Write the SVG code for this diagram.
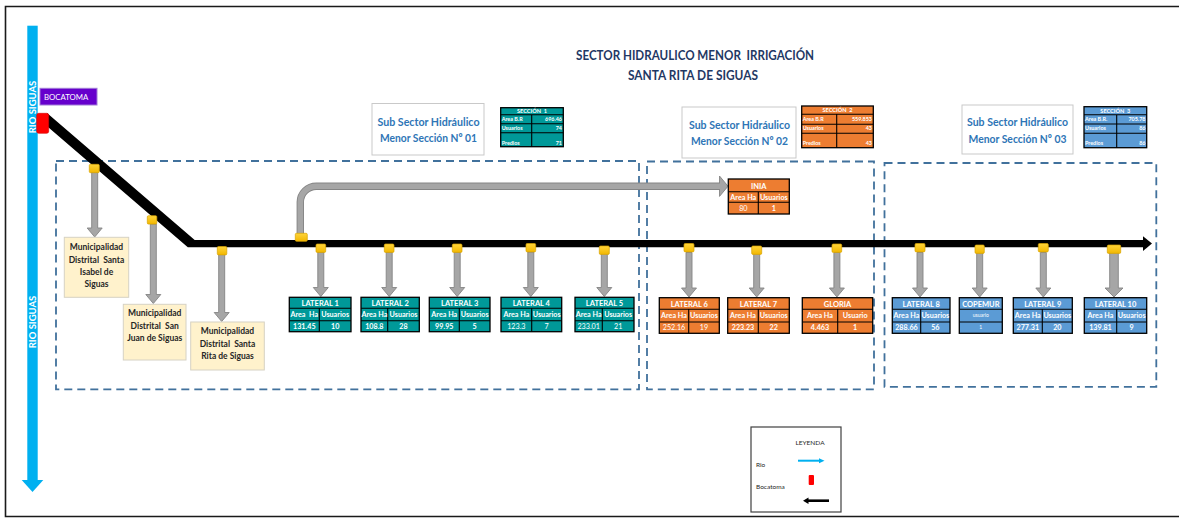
<svg xmlns="http://www.w3.org/2000/svg" xmlns:xlink="http://www.w3.org/1999/xlink" width="1179" height="518" viewBox="0 0 1179 518">
  <defs>
    <style>
      text { font-family: Lato, "Liberation Sans", sans-serif; white-space: pre; }
      .title { font-size: 13px; font-weight: 700; fill: #1f3864; text-anchor: middle; }
      .sub { font-size: 12px; font-weight: 700; fill: #2e75b6; text-anchor: middle; }
      .subbox { fill: #fff; stroke: #c9c9c9; stroke-width: 1; }
      .zone { fill: none; stroke: #41719c; stroke-width: 1.8; stroke-dasharray: 8 5; }
      .mbox { fill: #fff2cc; stroke: #d6d2c4; stroke-width: 1; }
      .mun { font-size: 8.5px; font-weight: 700; fill: #262626; text-anchor: middle; }
      .teal { fill: #009999; }
      .orng { fill: #ed7d31; }
      .blu { fill: #5b9bd5; }
      .cell { stroke: #000; stroke-width: 1.3; }
      .grid { fill: none; stroke: #000; stroke-width: 1.1; }
      .th { font-size: 7.5px; font-weight: 700; fill: #fff; text-anchor: middle; }
      .tc { font-size: 7.2px; font-weight: 700; fill: #fff; text-anchor: middle; }
      .tl { font-size: 7.2px; font-weight: 400; fill: #fff; text-anchor: middle; }
      .ts { font-size: 5px; font-weight: 400; fill: #fff; text-anchor: middle; }
      .sh { font-size: 5.6px; font-weight: 700; fill: #fff; text-anchor: middle; }
      .sl { font-size: 5.4px; font-weight: 700; fill: #fff; }
      .sv { font-size: 5.4px; font-weight: 700; fill: #fff; text-anchor: end; }
      .garrow { fill: #a6a6a6; stroke: #858585; stroke-width: 0.9; }
      .tab { fill: url(#tabfill); stroke: #d9a300; stroke-width: 0.7; }
      .leg { font-size: 6.5px; fill: #262626; }
    </style>
    <linearGradient id="tabfill" x1="0" y1="0" x2="0" y2="1">
      <stop offset="0" stop-color="#ffd43a"/>
      <stop offset="1" stop-color="#f2b700"/>
    </linearGradient>
    <!-- standard lateral offtake arrow: tab at y=252, tip at y=296.5 -->
    <path id="darrow" d="M-3 0 V35.5 H-7.5 L0 44.5 L7.5 35.5 H3 V0 Z"/>
  </defs>

  <rect width="1179" height="518" fill="#fff"/>
  <!-- page frame -->
  <path d="M1182 6.5 H5.5 V516.5 H1182" fill="none" stroke="#1a1a1a" stroke-width="1.6"/>

  <!-- title -->
  <g id="title">
    <text class="title" x="695" y="60" textLength="238" lengthAdjust="spacingAndGlyphs" xml:space="preserve">SECTOR HIDRAULICO MENOR  IRRIGACIÓN</text>
    <text class="title" x="693" y="79.5" textLength="130" lengthAdjust="spacingAndGlyphs">SANTA RITA DE SIGUAS</text>
  </g>

  <!-- river -->
  <g id="rio">
    <rect x="27.3" y="25.7" width="10.4" height="455" fill="#00b0f0"/>
    <polygon points="21.7,480 43.3,480 32.5,492" fill="#00b0f0"/>
    <text x="0" y="0" transform="translate(35.8,107) rotate(-90)" font-size="9.5" font-weight="700" fill="#fff" text-anchor="middle">RIO SIGUAS</text>
    <text x="0" y="0" transform="translate(35.8,322) rotate(-90)" font-size="9.5" font-weight="700" fill="#fff" text-anchor="middle">RIO SIGUAS</text>
  </g>

  <!-- sector zones -->
  <g id="zonas">
    <rect class="zone" x="56" y="161" width="583" height="228.3"/>
    <rect class="zone" x="647" y="161.5" width="227" height="227.8"/>
    <rect class="zone" x="884.5" y="163" width="271.8" height="223.8"/>
  </g>

  <!-- main canal and offtakes -->
  <g id="conectores">
    <polygon points="47.3,113.2 194.7,240 1144,240 1144,247.3 187.8,247.3 40.7,120.8" fill="#000"/>
    <polygon points="1143,236.3 1152,243.6 1143,250.9" fill="#000"/>

    <!-- offtake to INIA -->
    <path d="M300.3 236 V202 A16 16 0 0 1 316.3 186.2 H721" fill="none" stroke="#858585" stroke-width="7.4"/>
    <polygon class="garrow" points="719.5,176 728,186.2 719.5,196.4"/>
    <path d="M300.3 236 V202 A16 16 0 0 1 316.3 186.2 H721" fill="none" stroke="#a6a6a6" stroke-width="5.6"/>

    <!-- municipal offtakes -->
    <path class="garrow" d="M91.7 172 V228 H87.2 L94.7 237 L102.2 228 H97.7 V172 Z"/>
    <path class="garrow" d="M150.3 224 V294.5 H145.8 L153.3 303.5 L160.8 294.5 H156.3 V224 Z"/>
    <path class="garrow" d="M218.7 254 V312.5 H214.2 L221.7 321.5 L229.2 312.5 H224.7 V254 Z"/>

    <!-- lateral offtakes -->
    <use xlink:href="#darrow" class="garrow" x="320.8" y="252"/>
    <use xlink:href="#darrow" class="garrow" x="389.2" y="252"/>
    <use xlink:href="#darrow" class="garrow" x="457.2" y="252"/>
    <use xlink:href="#darrow" class="garrow" x="530.8" y="252"/>
    <use xlink:href="#darrow" class="garrow" x="604.3" y="252"/>
    <use xlink:href="#darrow" class="garrow" x="689" y="252.5"/>
    <use xlink:href="#darrow" class="garrow" x="756.7" y="252.5"/>
    <use xlink:href="#darrow" class="garrow" x="836.9" y="252.5"/>
    <use xlink:href="#darrow" class="garrow" x="920" y="252.5"/>
    <use xlink:href="#darrow" class="garrow" x="979.7" y="252.5"/>
    <use xlink:href="#darrow" class="garrow" x="1043.3" y="252.5"/>
    <path class="garrow" d="M1109.7 252 V288 H1105 L1114 297 L1123 288 H1118.3 V252 Z"/>

    <!-- gates -->
    <rect class="tab" x="89.3" y="164.3" width="10" height="8.4" rx="1.2"/>
    <rect class="tab" x="147.3" y="215.7" width="9.5" height="8.4" rx="1.2"/>
    <rect class="tab" x="217.3" y="246.5" width="9.5" height="8.4" rx="1.2"/>
    <rect class="tab" x="295.3" y="233.3" width="12" height="8" rx="1.2"/>
    <rect class="tab" x="316" y="244" width="9.7" height="8.4" rx="1.2"/>
    <rect class="tab" x="384.3" y="244" width="9.7" height="8.4" rx="1.2"/>
    <rect class="tab" x="452.3" y="244" width="9.7" height="8.4" rx="1.2"/>
    <rect class="tab" x="526" y="243.5" width="9.7" height="8.4" rx="1.2"/>
    <rect class="tab" x="599.3" y="246" width="10" height="8.4" rx="1.2"/>
    <rect class="tab" x="684" y="243.5" width="10" height="8.4" rx="1.2"/>
    <rect class="tab" x="751.7" y="246" width="10" height="8.4" rx="1.2"/>
    <rect class="tab" x="832" y="244" width="9.7" height="8.4" rx="1.2"/>
    <rect class="tab" x="915" y="243.5" width="10" height="8.4" rx="1.2"/>
    <rect class="tab" x="975" y="245" width="9.3" height="8.4" rx="1.2"/>
    <rect class="tab" x="1038.3" y="243.5" width="10" height="8.4" rx="1.2"/>
    <rect class="tab" x="1107.3" y="245" width="13.4" height="8.4" rx="1.2"/>
  </g>

  <!-- intake -->
  <g id="bocatoma">
    <rect x="40" y="88.3" width="57" height="16.7" fill="#6600cc" stroke="#a07ad6" stroke-width="1"/>
    <text x="44" y="100" font-size="7.8" fill="#fff">BOCATOMA</text>
    <rect x="36.7" y="113.3" width="12" height="20" rx="2" fill="#ff0000" stroke="#d40000" stroke-width="0.6"/>
  </g>

  <!-- sub-sector labels -->
  <g id="subsector-1">
    <rect class="subbox" x="372" y="103.5" width="112" height="51.5"/>
    <text class="sub" x="428.5" y="125.5" textLength="102" lengthAdjust="spacingAndGlyphs">Sub Sector Hidráulico</text>
    <text class="sub" x="428.5" y="142" textLength="97" lengthAdjust="spacingAndGlyphs">Menor Sección Nº 01</text>
  </g>
  <g id="subsector-2">
    <rect class="subbox" x="682" y="107" width="114" height="51"/>
    <text class="sub" x="739.5" y="128.5" textLength="101" lengthAdjust="spacingAndGlyphs">Sub Sector Hidráulico</text>
    <text class="sub" x="739.5" y="145" textLength="97" lengthAdjust="spacingAndGlyphs">Menor Sección Nº 02</text>
  </g>
  <g id="subsector-3">
    <rect class="subbox" x="962" y="105" width="111" height="49"/>
    <text class="sub" x="1017.5" y="126" textLength="101" lengthAdjust="spacingAndGlyphs">Sub Sector Hidráulico</text>
    <text class="sub" x="1017.5" y="142.5" textLength="98" lengthAdjust="spacingAndGlyphs">Menor Sección Nº 03</text>
  </g>

  <!-- section summary tables -->
  <g id="seccion-1" transform="translate(500.7,107.7)">
    <rect class="teal cell" width="62.6" height="39"/>
    <path class="grid" d="M0 7 H62.6 M0 16 H62.6 M0 25 H62.6 M31 7 V39"/>
    <text class="sh" x="31.3" y="5.3" xml:space="preserve">SECCIÓN  1</text>
    <text class="sl" x="1" y="13.5">Area B.R</text><text class="sv" x="61.3" y="13.5">696.46</text>
    <text class="sl" x="1" y="22.5">Usuarios</text><text class="sv" x="61.3" y="22.5">74</text>
    <text class="sl" x="1" y="37">Predios</text><text class="sv" x="61.3" y="37">71</text>
  </g>
  <g id="seccion-2" transform="translate(801.7,106)">
    <rect class="orng cell" width="71.6" height="41.7"/>
    <path class="grid" d="M0 8.3 H71.6 M0 18.3 H71.6 M0 27.3 H71.6 M35 8.3 V41.7"/>
    <text class="sh" x="35.8" y="6.3" xml:space="preserve">SECCIÓN  2</text>
    <text class="sl" x="1" y="15.3">Area B.R</text><text class="sv" x="70.3" y="15.3">559.853</text>
    <text class="sl" x="1" y="24.3">Usuarios</text><text class="sv" x="70.3" y="24.3">43</text>
    <text class="sl" x="1" y="38.8">Predios</text><text class="sv" x="70.3" y="38.8">43</text>
  </g>
  <g id="seccion-3" transform="translate(1084,106.7)">
    <rect class="blu cell" width="62.7" height="41"/>
    <path class="grid" d="M0 8 H62.7 M0 17.3 H62.7 M0 26.5 H62.7 M32.7 8 V41"/>
    <text class="sh" x="31.3" y="6" xml:space="preserve">SECCIÓN  3</text>
    <text class="sl" x="1" y="14.8">Area B.R.</text><text class="sv" x="61.4" y="14.8">705.78</text>
    <text class="sl" x="1" y="23.8">Usuarios</text><text class="sv" x="61.4" y="23.8">86</text>
    <text class="sl" x="1" y="38.2">Predios</text><text class="sv" x="61.4" y="38.2">86</text>
  </g>

  <!-- municipalities -->
  <g id="mun-santa-isabel">
    <rect class="mbox" x="64.3" y="237.3" width="64.4" height="60"/>
    <text class="mun" x="96.5" y="250">Municipalidad</text>
    <text class="mun" x="96.5" y="262.5" xml:space="preserve">Distrital  Santa</text>
    <text class="mun" x="96.5" y="275">Isabel de</text>
    <text class="mun" x="96.5" y="287">Siguas</text>
  </g>
  <g id="mun-san-juan">
    <rect class="mbox" x="123.3" y="304.3" width="62.7" height="55.7"/>
    <text class="mun" x="154.7" y="316">Municipalidad</text>
    <text class="mun" x="154.7" y="328.5" xml:space="preserve">Distrital  San</text>
    <text class="mun" x="154.7" y="341">Juan de Siguas</text>
  </g>
  <g id="mun-santa-rita">
    <rect class="mbox" x="190.7" y="322" width="73.6" height="48"/>
    <text class="mun" x="227.5" y="334">Municipalidad</text>
    <text class="mun" x="227.5" y="346.5" xml:space="preserve">Distrital  Santa</text>
    <text class="mun" x="227.5" y="358.5">Rita de Siguas</text>
  </g>

  <!-- INIA -->
  <g id="inia" transform="translate(728.3,179)">
    <rect class="orng cell" width="61" height="35"/>
    <path class="grid" d="M0 12.7 H61 M0 23.3 H61 M30 12.7 V35"/>
    <text class="th" x="30.5" y="9.5">INIA</text>
    <text class="tc" x="15" y="20.6">Area Ha</text><text class="tc" x="45.5" y="20.6">Usuarios</text>
    <text class="tl" x="15" y="31.8">80</text><text class="tc" x="45.5" y="31.8">1</text>
  </g>

  <!-- laterals, section 1 -->
  <g id="lateral-1" transform="translate(289.3,297.3)">
    <rect class="teal cell" width="61.7" height="34.4"/>
    <path class="grid" d="M0 11 H61.7 M0 23.4 H61.7 M30 11 V34.4"/>
    <text class="th" x="30.85" y="8.4">LATERAL 1</text>
    <text class="tc" x="15" y="20" xml:space="preserve">Area  Ha</text><text class="tc" x="45.85" y="20">Usuarios</text>
    <text class="tc" x="15" y="31.5">131.45</text><text class="tc" x="45.85" y="31.5">10</text>
  </g>
  <g id="lateral-2" transform="translate(361,297.3)">
    <rect class="teal cell" width="58.3" height="34.4"/>
    <path class="grid" d="M0 11 H58.3 M0 23.4 H58.3 M26.7 11 V34.4"/>
    <text class="th" x="29.15" y="8.4">LATERAL 2</text>
    <text class="tc" x="13.35" y="20">Area Ha</text><text class="tc" x="42.5" y="20">Usuarios</text>
    <text class="tc" x="13.35" y="31.5">108.8</text><text class="tc" x="42.5" y="31.5">28</text>
  </g>
  <g id="lateral-3" transform="translate(429.3,297.3)">
    <rect class="teal cell" width="60.7" height="34.4"/>
    <path class="grid" d="M0 11 H60.7 M0 23.4 H60.7 M30 11 V34.4"/>
    <text class="th" x="30.35" y="8.4">LATERAL 3</text>
    <text class="tc" x="15" y="20">Area Ha</text><text class="tc" x="45.35" y="20">Usuarios</text>
    <text class="tc" x="15" y="31.5">99.95</text><text class="tc" x="45.35" y="31.5">5</text>
  </g>
  <g id="lateral-4" transform="translate(501,297.3)">
    <rect class="teal cell" width="60.7" height="34.4"/>
    <path class="grid" d="M0 11 H60.7 M0 23.4 H60.7 M30.7 11 V34.4"/>
    <text class="th" x="30.35" y="8.4">LATERAL 4</text>
    <text class="tc" x="15.35" y="20">Area Ha</text><text class="tc" x="45.7" y="20">Usuarios</text>
    <text class="tl" x="15.35" y="31.5">123.3</text><text class="tl" x="45.7" y="31.5">7</text>
  </g>
  <g id="lateral-5" transform="translate(575,297.3)">
    <rect class="teal cell" width="59" height="34.4"/>
    <path class="grid" d="M0 11 H59 M0 23.4 H59 M27.3 11 V34.4"/>
    <text class="th" x="29.5" y="8.4">LATERAL 5</text>
    <text class="tc" x="13.65" y="20">Area Ha</text><text class="tc" x="43.15" y="20">Usuarios</text>
    <text class="tl" x="13.65" y="31.5">233.01</text><text class="tl" x="43.15" y="31.5">21</text>
  </g>

  <!-- laterals, section 2 -->
  <g id="lateral-6" transform="translate(659.3,297.7)">
    <rect class="orng cell" width="60" height="35.6"/>
    <path class="grid" d="M0 11.6 H60 M0 24.3 H60 M29.4 11.6 V35.6"/>
    <text class="th" x="30" y="9">LATERAL 6</text>
    <text class="tc" x="14.7" y="20.7">Area Ha</text><text class="tc" x="44.7" y="20.7">Usuarios</text>
    <text class="tl" x="14.7" y="32.6">252.16</text><text class="tl" x="44.7" y="32.6">19</text>
  </g>
  <g id="lateral-7" transform="translate(727.7,297.7)">
    <rect class="orng cell" width="61.6" height="35.6"/>
    <path class="grid" d="M0 11.6 H61.6 M0 24.3 H61.6 M30.6 11.6 V35.6"/>
    <text class="th" x="30.8" y="9">LATERAL 7</text>
    <text class="tc" x="15.3" y="20.7">Area Ha</text><text class="tc" x="46.1" y="20.7">Usuarios</text>
    <text class="tc" x="15.3" y="32.6">223.23</text><text class="tc" x="46.1" y="32.6">22</text>
  </g>
  <g id="gloria" transform="translate(802.3,297.7)">
    <rect class="orng cell" width="70.4" height="35.6"/>
    <path class="grid" d="M0 11.6 H70.4 M0 24.3 H70.4 M35.4 11.6 V35.6"/>
    <text class="th" x="35.2" y="9">GLORIA</text>
    <text class="tc" x="17.7" y="20.7">Area Ha</text><text class="tc" x="52.9" y="20.7">Usuario</text>
    <text class="tc" x="17.7" y="32.6">4.463</text><text class="tc" x="52.9" y="32.6">1</text>
  </g>

  <!-- laterals, section 3 -->
  <g id="lateral-8" transform="translate(892.3,297.7)">
    <rect class="blu cell" width="57.7" height="35.6"/>
    <path class="grid" d="M0 11.6 H57.7 M0 24.3 H57.7 M28.4 11.6 V35.6"/>
    <text class="th" x="28.85" y="9">LATERAL 8</text>
    <text class="tc" x="14.2" y="20.7">Area Ha</text><text class="tc" x="43.05" y="20.7">Usuarios</text>
    <text class="tc" x="14.2" y="32.6">288.66</text><text class="tc" x="43.05" y="32.6">56</text>
  </g>
  <g id="copemur" transform="translate(959.3,297.7)">
    <rect class="blu cell" width="43" height="35.6"/>
    <path class="grid" d="M0 11.6 H43 M0 24.3 H43"/>
    <text class="th" x="21.5" y="9">COPEMUR</text>
    <text class="ts" x="21.5" y="19.8">usuario</text>
    <text class="ts" x="21.5" y="31.8">1</text>
  </g>
  <g id="lateral-9" transform="translate(1013.3,297.7)">
    <rect class="blu cell" width="59" height="35.6"/>
    <path class="grid" d="M0 11.6 H59 M0 24.3 H59 M29 11.6 V35.6"/>
    <text class="th" x="29.5" y="9">LATERAL 9</text>
    <text class="tc" x="14.5" y="20.7">Area Ha</text><text class="tc" x="44" y="20.7">Usuarios</text>
    <text class="tc" x="14.5" y="32.6">277.31</text><text class="tc" x="44" y="32.6">20</text>
  </g>
  <g id="lateral-10" transform="translate(1084.3,297.7)">
    <rect class="blu cell" width="62.4" height="35.6"/>
    <path class="grid" d="M0 11.6 H62.4 M0 24.3 H62.4 M32.4 11.6 V35.6"/>
    <text class="th" x="31.2" y="9">LATERAL 10</text>
    <text class="tc" x="16.2" y="20.7">Area Ha</text><text class="tc" x="47.4" y="20.7">Usuarios</text>
    <text class="tc" x="16.2" y="32.6">139.81</text><text class="tc" x="47.4" y="32.6">9</text>
  </g>

  <!-- legend -->
  <g id="leyenda">
    <rect x="751" y="427" width="90" height="85" fill="#fff" stroke="#404040" stroke-width="1.2"/>
    <text class="leg" x="810" y="444.5" text-anchor="middle">LEYENDA</text>
    <text class="leg" x="756" y="467">Rio</text>
    <line x1="798" y1="460.7" x2="820" y2="460.7" stroke="#00b0f0" stroke-width="2"/>
    <polygon points="819,458.2 824.5,460.7 819,463.2" fill="#00b0f0"/>
    <text class="leg" x="756" y="489">Bocatoma</text>
    <rect x="808.7" y="475" width="5.3" height="10" rx="1" fill="#ff0000"/>
    <line x1="808" y1="500.7" x2="829" y2="500.7" stroke="#000" stroke-width="2.6"/>
    <polygon points="803,500.7 808.5,497.4 808.5,504" fill="#000"/>
  </g>
</svg>
